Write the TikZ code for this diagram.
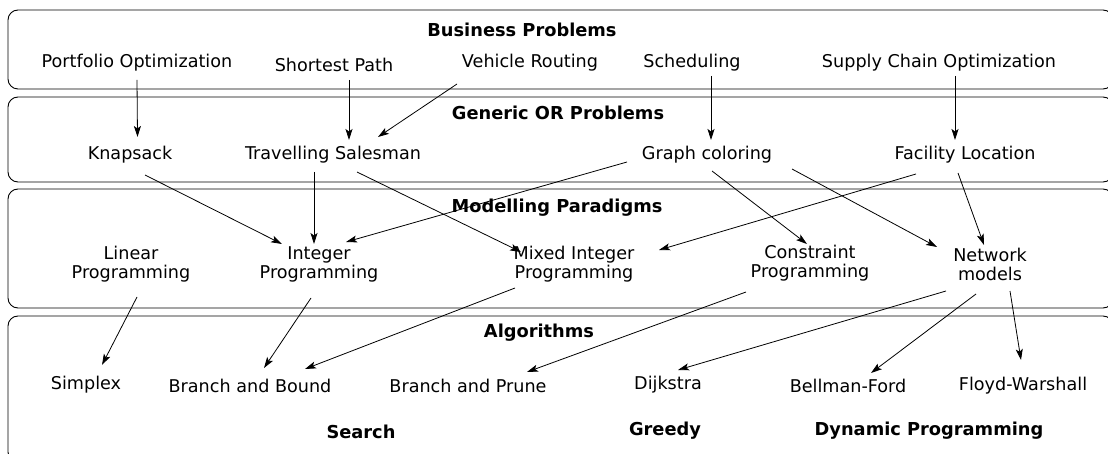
\documentclass[tikz,border=0pt]{standalone}
\usepackage{fontspec}
\setmainfont{DejaVu Sans}
\usetikzlibrary{calc,arrows.meta}
\begin{document}
\begin{tikzpicture}[x=1pt,y=-1pt,
  panel/.style={draw=black,line width=0.9pt,rounded corners=10pt},
  lbl/.style={inner sep=0pt,align=center,font=\fontsize{17.6}{19}\selectfont},
  ttl/.style={inner sep=0pt,align=center,font=\fontsize{17.8}{19}\selectfont\bfseries},
  arr/.style={-{Stealth[length=11pt,width=7pt,inset=2.5pt]},line width=0.8pt}]
\useasboundingbox (0,0) rectangle (1108,454);
% panels
\draw[panel] (8,10) rectangle (1113,89);
\draw[panel] (8,97) rectangle (1113,182);
\draw[panel] (8,189) rectangle (1113,308);
\draw[panel] (8,316) rectangle (1113,462);
% titles
\node[ttl] (tbp) at (522,30) {Business Problems};
\node[ttl] (tgo) at (558,113) {Generic OR Problems};
\node[ttl] (tmp) at (557,208) {Modelling Paradigms};
\node[ttl] (tal) at (539,333) {Algorithms};
\node[ttl] (tse) at (361,432) {Search};
\node[ttl] (tgr) at (665,431) {Greedy};
\node[ttl] (tdp) at (929,431) {Dynamic Programming};
% level 1
\node[lbl] (po) at (137,63) {Portfolio Optimization};
\node[lbl] (sp) at (334,65) {Shortest Path};
\node[lbl] (vr) at (530,63) {Vehicle Routing};
\node[lbl] (sc) at (692,63) {Scheduling};
\node[lbl] (scm) at (939,63) {Supply Chain Optimization};
% level 2
\node[lbl] (kn) at (130,155) {Knapsack};
\node[lbl] (ts) at (333,155) {Travelling Salesman};
\node[lbl] (gc) at (707,155) {Graph coloring};
\node[lbl] (fl) at (965,155) {Facility Location};
% level 3
\node[lbl] (lp) at (131,264) {Linear\\Programming};
\node[lbl] (ip) at (319,264) {Integer\\Programming};
\node[lbl] (mip) at (574,264) {Mixed Integer\\Programming};
\node[lbl] (cp) at (810,263) {Constraint\\Programming};
\node[lbl] (nm) at (990,264) {Network\\models};
% level 4
\node[lbl] (sx) at (86,385) {Simplex};
\node[lbl] (bb) at (250,386) {Branch and Bound};
\node[lbl] (bp) at (468,386) {Branch and Prune};
\node[lbl] (dj) at (668,385) {Dijkstra};
\node[lbl] (bf) at (848,386) {Bellman-Ford};
\node[lbl] (fw) at (1023,386) {Floyd-Warshall};
% arrows
\draw[arr] ($(po)+(0,17)$) -- ($(kn)+(7.5,-18)$);
\draw[arr] ($(sp)+(15,15)$) -- ($(ts)+(16,-15)$);
\draw[arr] ($(vr)+(-73,21)$) -- ($(ts)+(45,-18)$);
\draw[arr] ($(sc)+(19,13)$) -- ($(gc)+(4,-15)$);
\draw[arr] ($(scm)+(16,13)$) -- ($(fl)+(-10,-15)$);
\draw[arr] ($(kn)+(15,20)$) -- ($(ip)+(-37,-20)$);
\draw[arr] ($(ts)+(-19,17)$) -- ($(ip)+(-5,-20)$);
\draw[arr] ($(ts)+(24,17)$) -- ($(mip)+(-53,-12)$);
\draw[arr] ($(gc)+(-80,7)$) -- ($(ip)+(27,-22)$);
\draw[arr] ($(gc)+(5,16)$) -- ($(cp)+(-3,-19)$);
\draw[arr] ($(gc)+(85,14)$) -- ($(nm)+(-53,-17)$);
\draw[arr] ($(fl)+(-49,19)$) -- ($(mip)+(85,-14)$);
\draw[arr] ($(fl)+(-7,18)$) -- ($(nm)+(-6,-19)$);
\draw[arr] ($(lp)+(6,33)$) -- ($(sx)+(16,-20)$);
\draw[arr] ($(ip)+(-8,34)$) -- ($(bb)+(14,-18)$);
\draw[arr] ($(mip)+(-59,24)$) -- ($(bb)+(55,-17)$);
\draw[arr] ($(cp)+(-64,29)$) -- ($(bp)+(59,-14)$);
\draw[arr] ($(nm)+(-44,27)$) -- ($(dj)+(10,-15)$);
\draw[arr] ($(nm)+(-14,30)$) -- ($(bf)+(23,-13)$);
\draw[arr] ($(nm)+(20,27)$) -- ($(fw)+(-2,-26)$);
\end{tikzpicture}
\end{document}
